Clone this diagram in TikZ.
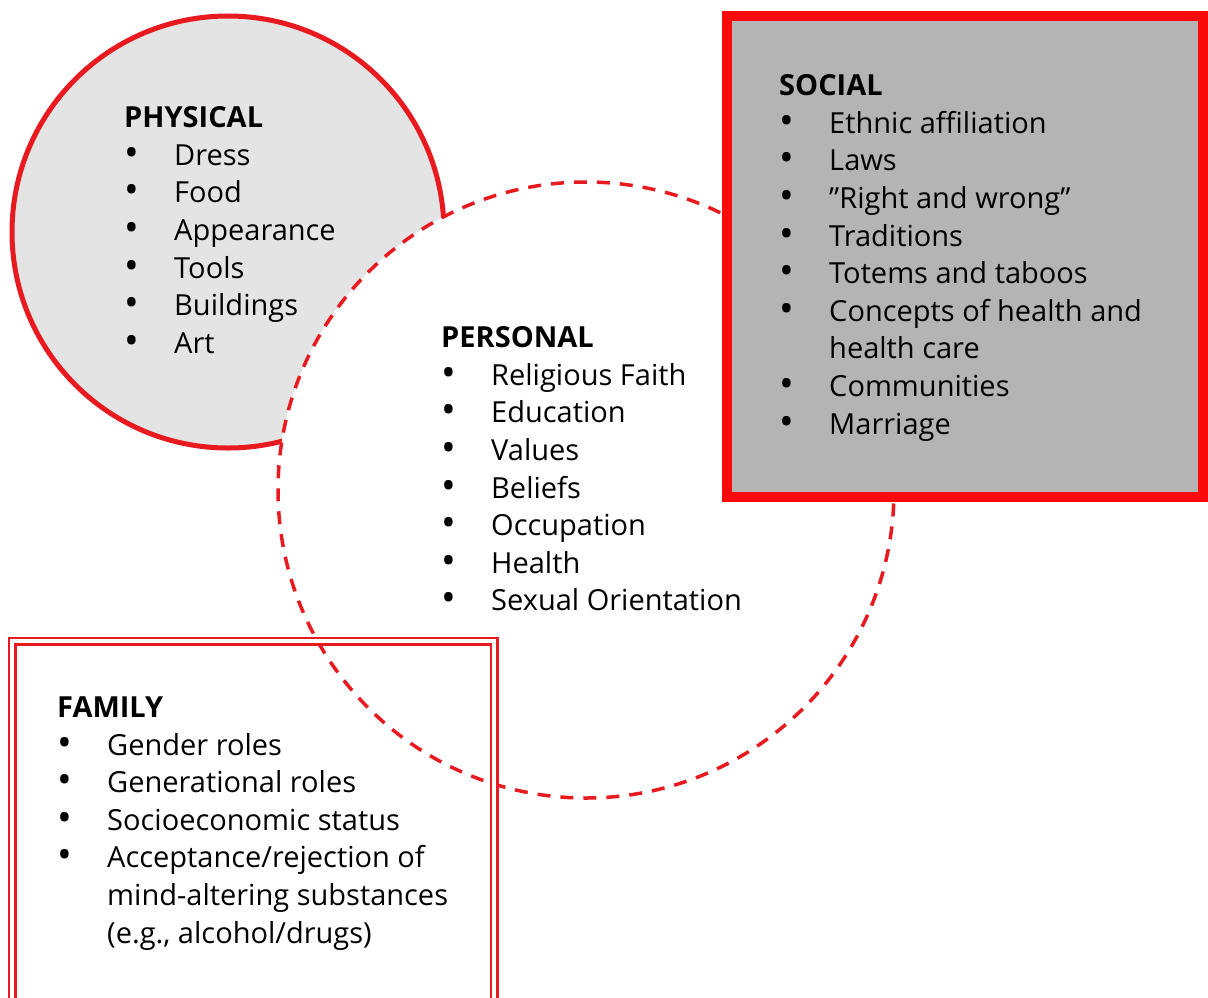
\documentclass[tikz,border=0pt]{standalone}
\usepackage{fontspec}
\setmainfont{Open Sans}
\usepackage{xcolor}
\definecolor{cultred}{HTML}{E81A1F}
\definecolor{boxred}{HTML}{FA0A0A}
\definecolor{lightgrey}{HTML}{E4E4E4}
\definecolor{midgrey}{HTML}{B4B4B4}
\newcommand\bul{\makebox[50pt][l]{\raisebox{-1pt}{\scalebox{1.35}{\textbullet}}}}
\newcommand\cont{\makebox[50pt][l]{}}
\usetikzlibrary{positioning}
\tikzset{
    list/.style = {anchor=north west, inner sep=0pt, align=left,
                   font=\fontsize{29}{37.6}\selectfont},
    sphere/.style = {circle, inner sep=0pt},
    solidring/.style = {sphere, draw=cultred, line width=5pt, fill=lightgrey},
    dashring/.style = {sphere, draw=cultred, line width=3.5pt, fill=white,
                       dash pattern=on 13pt off 10pt},
    thickbox/.style = {rectangle, draw=boxred, line width=10pt, fill=midgrey},
    doublebox/.style = {rectangle, draw=cultred, line width=2.5pt,
                        double=white, double distance=4pt}
}
\begin{document}
\begin{tikzpicture}[x=1pt, y=-1pt]
  \clip (0,0) rectangle (1208,997);
  \fill[white] (0,0) rectangle (1208,997);

  % the four spheres
  \node[solidring, minimum size=432pt] (physical) at (228,232) {};
  \node[dashring, minimum size=616pt] (personal) at (586,490) {};
  \node[thickbox, minimum width=476pt, minimum height=481pt] (social) at (965,256.5) {};
  \node[doublebox, minimum width=482pt, minimum height=374pt] (family) at (253,828) {};

  % lists
  \node[list] (physicalList) at (124,106.5) {\textbf{PHYSICAL}\\
    \bul Dress\\ \bul Food\\ \bul Appearance\\ \bul Tools\\
    \bul Buildings\\ \bul Art};
  \node[list] (socialList) at (779,74.5) {\textbf{SOCIAL}\\
    \bul Ethnic affiliation\\ \bul Laws\\ \bul ”Right and wrong”\\
    \bul Traditions\\ \bul Totems and taboos\\
    \bul Concepts of health and\\ \cont health care\\
    \bul Communities\\ \bul Marriage};
  \node[list] (personalList) at (441,326.5) {\textbf{PERSONAL}\\
    \bul Religious Faith\\ \bul Education\\ \bul Values\\ \bul Beliefs\\
    \bul Occupation\\ \bul Health\\ \bul Sexual Orientation};
  \node[list] (familyList) at (57,696.5) {\textbf{FAMILY}\\
    \bul Gender roles\\ \bul Generational roles\\
    \bul Socioeconomic status\\ \bul Acceptance/rejection of\\
    \cont mind-altering substances\\ \cont (e.g., alcohol/drugs)};
\end{tikzpicture}
\end{document}
